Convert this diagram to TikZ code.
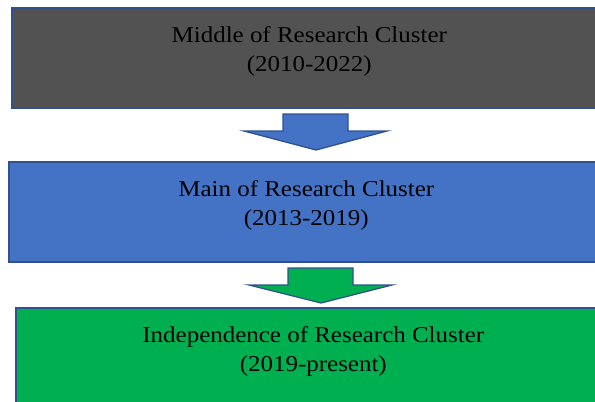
\documentclass[tikz,border=0pt]{standalone}
\usepackage{fontspec}
\setmainfont{Liberation Serif}[FakeStretch=1.1]
\usetikzlibrary{calc}
\definecolor{edgeblue}{RGB}{47,82,143}
\definecolor{darkbox}{RGB}{82,82,82}
\definecolor{bluebox}{RGB}{68,114,196}
\definecolor{greenbox}{RGB}{0,176,80}
\tikzset{
  box/.style={draw=edgeblue, line width=1.6pt, rectangle, minimum width=595pt, minimum height=100pt, inner sep=0pt, anchor=north west},
  lbl/.style={align=center, inner sep=0pt, anchor=north, font=\fontsize{22.7pt}{29.3pt}\selectfont, text=black},
  barrow/.style={draw=edgeblue, line width=1.3pt, line join=miter}
}
\begin{document}
\begin{tikzpicture}[x=1pt,y=-1pt]
\clip (0,0) rectangle (595,402);
\fill[white] (0,0) rectangle (595,402);
% boxes
\node[box, fill=darkbox]  (b1) at (11,7) {};
\node[box, fill=bluebox]  (b2) at (8,161) {};
\node[box, fill=greenbox] (b3) at (15,307) {};
% labels
\node[lbl] (t1) at ($(b1.north)+(0,19.2)$) {Middle of Research Cluster\\(2010-2022)};
\node[lbl] (t2) at ($(b2.north)+(0,19.2)$) {Main of Research Cluster\\(2013-2019)};
\node[lbl] (t3) at ($(b3.north)+(0,19.2)$) {Independence of Research Cluster\\(2019-present)};
% block arrows
\coordinate (a1) at (316,114);
\draw[barrow, fill=bluebox] (283,114) -- (348,114) -- (348,131) -- (387,131) -- (316,150) -- (244,131) -- (283,131) -- cycle;
\coordinate (a2) at (321,268);
\draw[barrow, fill=greenbox] (288,268) -- (353,268) -- (353,285) -- (392,285) -- (321,303) -- (249,285) -- (288,285) -- cycle;
\end{tikzpicture}
\end{document}
